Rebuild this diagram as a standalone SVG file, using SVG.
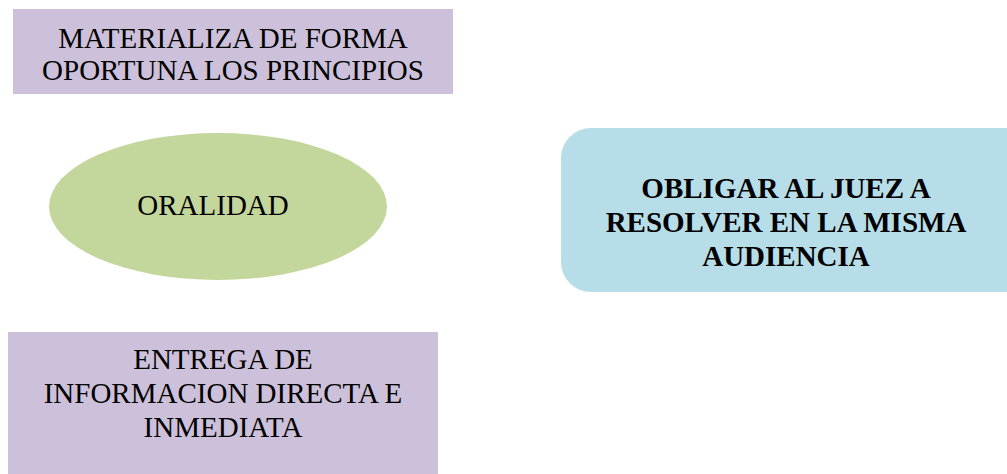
<svg xmlns="http://www.w3.org/2000/svg" width="1007" height="474" viewBox="0 0 1007 474">
<style>
.t{font-family:"Liberation Serif","Times New Roman",serif;font-size:29px;fill:#000;text-anchor:middle}
.b{font-weight:bold}
.purple{fill:#CCC0DA}
</style>
<rect width="1007" height="474" fill="#fff"/>
<g id="connectors"></g>
<g id="node-materializa">
<rect class="purple" x="13" y="9" width="440" height="85"/>
<text class="t" x="233" y="48">MATERIALIZA DE FORMA</text>
<text class="t" x="233" y="80">OPORTUNA LOS PRINCIPIOS</text>
</g>
<g id="node-oralidad">
<ellipse cx="218" cy="206.5" rx="169" ry="73.5" fill="#C3D69B"/>
<text class="t" x="213" y="215">ORALIDAD</text>
</g>
<g id="node-obligar">
<rect x="561" y="128" width="476" height="164" rx="30" ry="30" fill="#B7DEE8"/>
<text class="t b" x="786" y="198">OBLIGAR AL JUEZ A</text>
<text class="t b" x="786" y="232">RESOLVER EN LA MISMA</text>
<text class="t b" x="786" y="266">AUDIENCIA</text>
</g>
<g id="node-entrega">
<rect class="purple" x="8" y="332" width="430" height="160"/>
<text class="t" x="223" y="369">ENTREGA DE</text>
<text class="t" x="223" y="403">INFORMACION DIRECTA E</text>
<text class="t" x="223" y="437">INMEDIATA</text>
</g>
</svg>
